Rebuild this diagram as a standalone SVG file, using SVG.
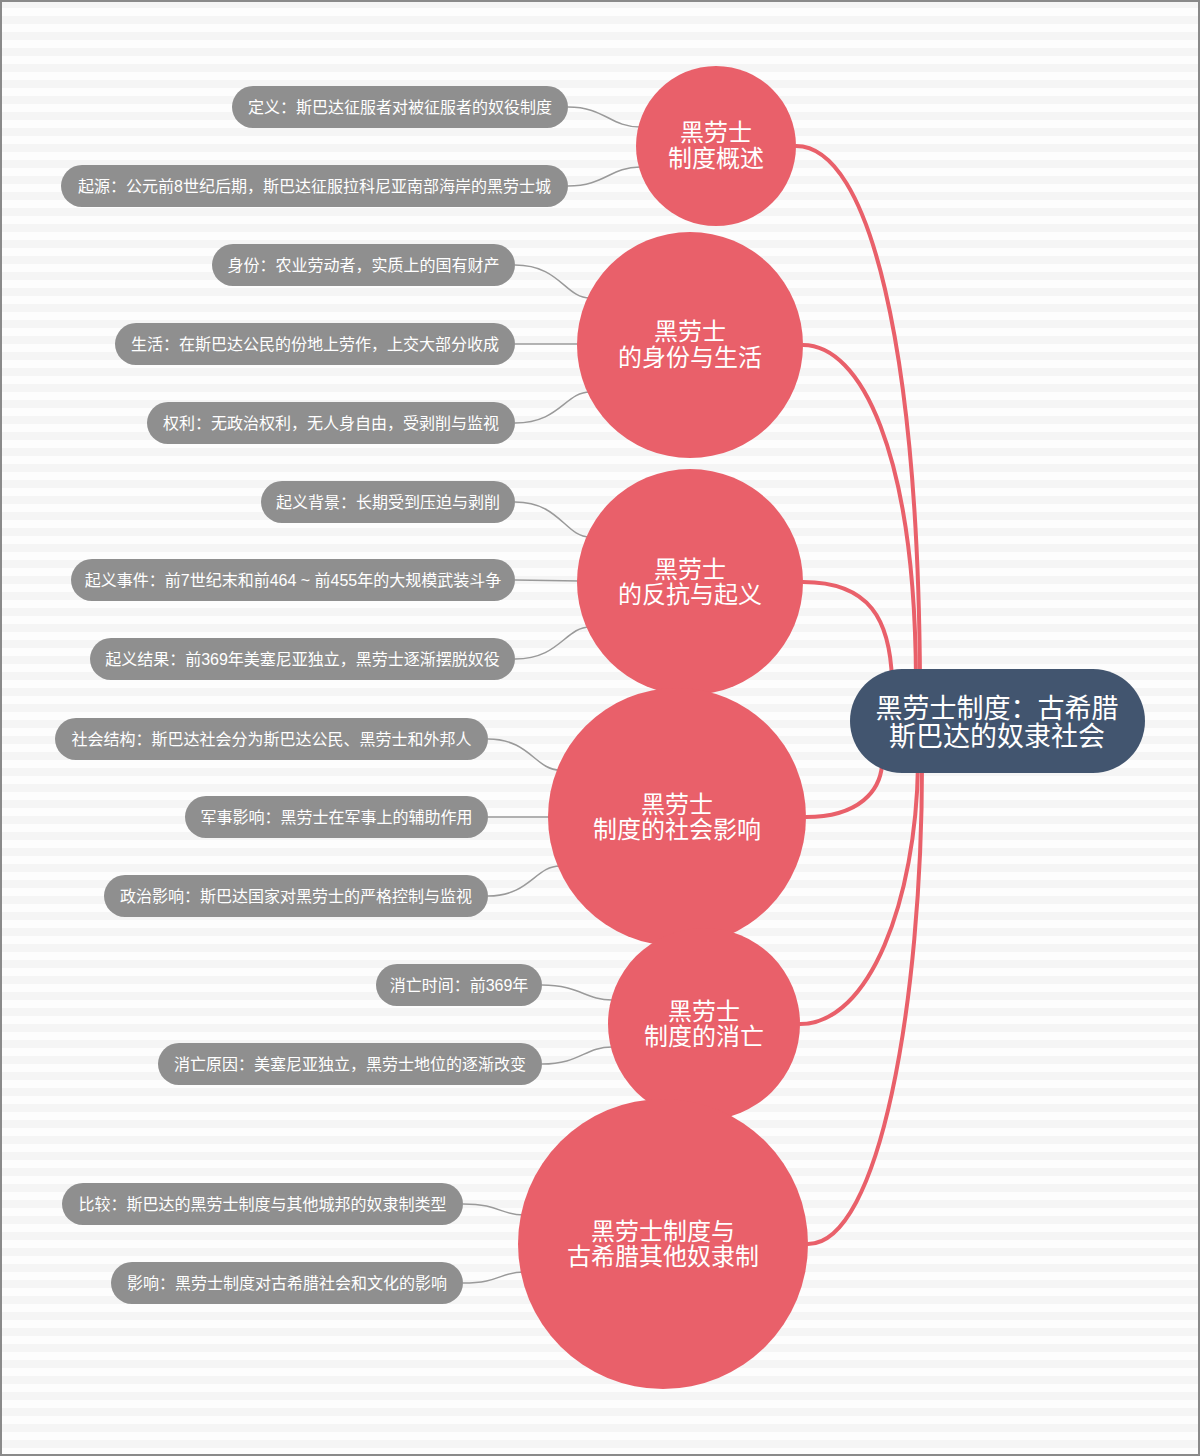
<svg xmlns="http://www.w3.org/2000/svg" width="1200" height="1456" viewBox="0 0 1200 1456">
<defs>
<pattern id="stripes" x="0" y="0" width="16" height="16" patternUnits="userSpaceOnUse">
<rect x="0" y="0" width="16" height="16" fill="#fdfdfd"/>
<rect x="0" y="0" width="16" height="8" fill="#f5f5f5"/>
</pattern>
<style>
.bg{fill:url(#stripes)}
.frame{fill:none;stroke:#8a8a8a;stroke-width:2}
.main{fill:none;stroke:#e9606a;stroke-width:4;stroke-linecap:round}
.sub{fill:none;stroke:#9a9a9a;stroke-width:1.5}
.circ{fill:#e9606a}
.root{fill:#42556f}
.leaf{fill:#8f8f8f}
text{font-family:"Liberation Sans","Noto Sans CJK SC",sans-serif;fill:#ffffff;text-anchor:middle}
.lt{font-size:16px}
.ct{font-size:24px}
.rt{font-size:27px}
</style>
</defs>
<rect class="bg" x="0" y="0" width="1200" height="1456"/>
<rect class="frame" x="1" y="1" width="1198" height="1454"/>

<g id="connectors">
<path class="main" d="M796,146 C870,146 918,350 920,680"/>
<path class="main" d="M803,345 C860,345 915,450 916,680"/>
<path class="main" d="M803,582 C870,582 890,620 892,680"/>
<path class="main" d="M806,817 C860,817 880,790 882,765"/>
<path class="main" d="M800,1024 C870,1024 916,900 918,765"/>
<path class="main" d="M808,1244 C880,1244 922,1000 922,765"/>

<path class="sub" d="M568,107 C605,107 610,127 640,127"/>
<path class="sub" d="M568,186 C605,186 610,167 640,167"/>
<path class="sub" d="M515,265 C560,265 565,298 590,298"/>
<path class="sub" d="M515,344 L580,344"/>
<path class="sub" d="M515,423 C560,423 565,392 590,392"/>
<path class="sub" d="M515,502 C560,502 565,537 590,537"/>
<path class="sub" d="M515,580 L580,581"/>
<path class="sub" d="M515,659 C560,659 565,627 590,627"/>
<path class="sub" d="M488,739 C530,739 535,770 560,770"/>
<path class="sub" d="M488,817 L550,817"/>
<path class="sub" d="M488,896 C530,896 535,866 560,866"/>
<path class="sub" d="M542,985 C580,985 585,1000 612,1000"/>
<path class="sub" d="M542,1064 C580,1064 585,1047 612,1047"/>
<path class="sub" d="M463,1204 C500,1204 500,1215 524,1215"/>
<path class="sub" d="M463,1283 C500,1283 500,1272 524,1272"/>
</g>

<g id="root">
<rect class="root" x="850" y="669" width="295" height="104" rx="52"/>
<text class="rt" x="997" y="718">黑劳士制度：古希腊</text>
<text class="rt" x="997" y="746">斯巴达的奴隶社会</text>
</g>

<g id="n1">
<circle class="circ" cx="716" cy="146" r="80"/>
<text class="ct" x="716" y="141">黑劳士</text>
<text class="ct" x="716" y="167">制度概述</text>
</g>
<g id="n2">
<circle class="circ" cx="690" cy="345" r="113"/>
<text class="ct" x="690" y="340">黑劳士</text>
<text class="ct" x="690" y="366">的身份与生活</text>
</g>
<g id="n3">
<circle class="circ" cx="690" cy="582" r="113"/>
<text class="ct" x="690" y="578">黑劳士</text>
<text class="ct" x="690" y="603">的反抗与起义</text>
</g>
<g id="n4">
<circle class="circ" cx="677" cy="817" r="129"/>
<text class="ct" x="677" y="813">黑劳士</text>
<text class="ct" x="677" y="838">制度的社会影响</text>
</g>
<g id="n5">
<circle class="circ" cx="704" cy="1024" r="96"/>
<text class="ct" x="704" y="1020">黑劳士</text>
<text class="ct" x="704" y="1045">制度的消亡</text>
</g>
<g id="n6">
<circle class="circ" cx="663" cy="1244" r="145"/>
<text class="ct" x="663" y="1240">黑劳士制度与</text>
<text class="ct" x="663" y="1265">古希腊其他奴隶制</text>
</g>

<g id="l1a"><rect class="leaf" x="232" y="86" width="336" height="42" rx="21"/><text class="lt" x="400" y="113">定义：斯巴达征服者对被征服者的奴役制度</text></g>
<g id="l1b"><rect class="leaf" x="61" y="165" width="507" height="42" rx="21"/><text class="lt" x="314.5" y="192">起源：公元前8世纪后期，斯巴达征服拉科尼亚南部海岸的黑劳士城</text></g>

<g id="l2a"><rect class="leaf" x="212" y="244" width="303" height="42" rx="21"/><text class="lt" x="363.5" y="271">身份：农业劳动者，实质上的国有财产</text></g>
<g id="l2b"><rect class="leaf" x="115" y="323" width="400" height="42" rx="21"/><text class="lt" x="315" y="350">生活：在斯巴达公民的份地上劳作，上交大部分收成</text></g>
<g id="l2c"><rect class="leaf" x="147" y="402" width="368" height="42" rx="21"/><text class="lt" x="331" y="429">权利：无政治权利，无人身自由，受剥削与监视</text></g>

<g id="l3a"><rect class="leaf" x="261" y="481" width="254" height="42" rx="21"/><text class="lt" x="388" y="508">起义背景：长期受到压迫与剥削</text></g>
<g id="l3b"><rect class="leaf" x="71" y="559" width="444" height="42" rx="21"/><text class="lt" x="293" y="586">起义事件：前7世纪末和前464 ~ 前455年的大规模武装斗争</text></g>
<g id="l3c"><rect class="leaf" x="90" y="638" width="425" height="42" rx="21"/><text class="lt" x="302.5" y="665">起义结果：前369年美塞尼亚独立，黑劳士逐渐摆脱奴役</text></g>

<g id="l4a"><rect class="leaf" x="55" y="718" width="433" height="42" rx="21"/><text class="lt" x="271.5" y="745">社会结构：斯巴达社会分为斯巴达公民、黑劳士和外邦人</text></g>
<g id="l4b"><rect class="leaf" x="185" y="796" width="303" height="42" rx="21"/><text class="lt" x="336.5" y="823">军事影响：黑劳士在军事上的辅助作用</text></g>
<g id="l4c"><rect class="leaf" x="104" y="875" width="384" height="42" rx="21"/><text class="lt" x="296" y="902">政治影响：斯巴达国家对黑劳士的严格控制与监视</text></g>

<g id="l5a"><rect class="leaf" x="376" y="964" width="166" height="42" rx="21"/><text class="lt" x="459" y="991">消亡时间：前369年</text></g>
<g id="l5b"><rect class="leaf" x="158" y="1043" width="384" height="42" rx="21"/><text class="lt" x="350" y="1070">消亡原因：美塞尼亚独立，黑劳士地位的逐渐改变</text></g>

<g id="l6a"><rect class="leaf" x="62" y="1183" width="401" height="42" rx="21"/><text class="lt" x="262.5" y="1210">比较：斯巴达的黑劳士制度与其他城邦的奴隶制类型</text></g>
<g id="l6b"><rect class="leaf" x="111" y="1262" width="352" height="42" rx="21"/><text class="lt" x="287" y="1289">影响：黑劳士制度对古希腊社会和文化的影响</text></g>
</svg>
